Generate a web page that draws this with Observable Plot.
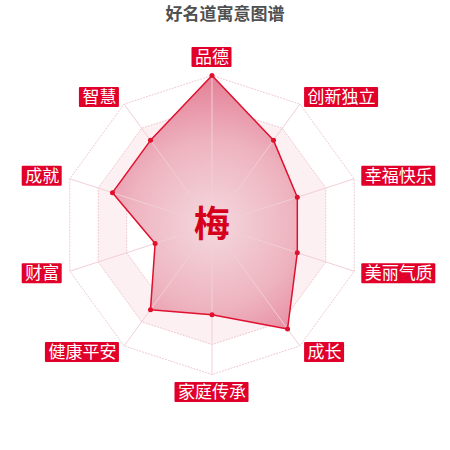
<!DOCTYPE html>
<html><head><meta charset="utf-8">
<script src="https://cdn.jsdelivr.net/npm/d3@7"></script>
<script src="https://cdn.jsdelivr.net/npm/@observablehq/plot@0.6"></script>
<style>
body{margin:0;background:#fff;width:450px;height:450px;overflow:hidden;font-family:"Noto Sans CJK SC",sans-serif}
#title{height:24px;line-height:24px;padding-top:1px;box-sizing:border-box;text-align:center;font-size:17px;font-weight:bold;color:#505050;}
#chart svg{display:block}
</style></head><body>
<div id="title">好名道寓意图谱</div>
<div id="chart"></div>
<script>
// ---- data ----
const centerName = "梅";
const dimensions = ["品德","创新独立","幸福快乐","美丽气质","成长","家庭传承","健康平安","财富","成就","智慧"];
const scores = [100,70,60,60,86,60,70,40,70,70];
const ringLevels = [20,40,60,80,100];
const maxScore = 100;

// ---- layout ----
const W = 450, H = 426;
const R = 149.5;              // px radius of maxScore
const cx = 211.5, cy = 200.5; // px center in svg
const k = R / maxScore;       // px per unit
const n = dimensions.length;
const ang = i => 2 * Math.PI * i / n;
const polar = (r, i) => ({x: r * Math.sin(ang(i)), y: r * Math.cos(ang(i))});

const pts = scores.map((s, i) => ({...polar(s, i), name: dimensions[i], s}));
const closed = [...pts, pts[0]];

const ringPolys = ringLevels.map(l => d3.range(n + 1).map(j => ({...polar(l, j % n), l})));
const spokes = dimensions.map((d, i) => ({x1: 0, y1: 0, x2: polar(maxScore, i).x, y2: polar(maxScore, i).y}));

const fs = 17, pad = 3, bh = 20, gap = 8;
const labels = dimensions.map((d, i) => {
  const a = polar(maxScore + gap / k, i);
  const w = d.length * fs + 2 * pad;
  const sx = Math.sin(ang(i)), cyv = Math.cos(ang(i));
  let x = a.x, y = a.y;
  if (Math.abs(sx) < 0.01) y += Math.sign(cyv) * (bh / 2) / k;
  else x += Math.sign(sx) * (w / 2) / k;
  return {name: d, x, y, x1: x - w / 2 / k, x2: x + w / 2 / k, y1: y - bh / 2 / k, y2: y + bh / 2 / k};
});

const splitFills = ["#ffffff", "#fcf0f3"];
const ringMarks = [];
[...ringLevels].reverse().forEach((l, idx) => {
  const poly = ringPolys[ringLevels.indexOf(l)];
  ringMarks.push(Plot.line(poly, {x: "x", y: "y", fill: splitFills[idx % 2], stroke: "#efc6cf", strokeWidth: 1, strokeDasharray: "1,2"}));
});

const chart = Plot.plot({
  width: W, height: H,
  margin: 0,
  x: {domain: [-cx / k, (W - cx) / k], range: [0, W], axis: null},
  y: {domain: [-(H - cy) / k, cy / k], range: [H, 0], axis: null},
  style: {fontFamily: '"Noto Sans CJK SC", sans-serif', background: "transparent"},
  marks: [
    ...ringMarks,
    Plot.line(closed, {x: "x", y: "y", fill: "url(#areaGrad)", stroke: "none"}),
    Plot.link(spokes, {x1: "x1", y1: "y1", x2: "x2", y2: "y2", stroke: "#f1cfd6", strokeWidth: 1}),
    Plot.line(closed, {x: "x", y: "y", stroke: "#e0102e", strokeWidth: 1.5}),
    Plot.dot(pts, {x: "x", y: "y", r: 2.5, fill: "#e0102e"}),
    Plot.text([centerName], {x: () => 0, y: () => 0, text: d => d, fontSize: 36, fontWeight: "bold", fill: "#d6001c", lineAnchor: "middle"}),
    Plot.rect(labels, {x1: "x1", x2: "x2", y1: "y1", y2: "y2", fill: "#e0002a", rx: 1}),
    Plot.text(labels, {x: "x", y: "y", text: "name", fill: "#fff", fontSize: fs, lineAnchor: "middle"})
  ]
});

const svg = d3.select(chart);
const defs = svg.insert("defs", ":first-child");
const g = defs.append("radialGradient").attr("id", "areaGrad")
  .attr("gradientUnits", "userSpaceOnUse").attr("cx", cx).attr("cy", cy).attr("r", R);
g.append("stop").attr("offset", "0").attr("stop-color", "#f4d8de");
g.append("stop").attr("offset", "0.55").attr("stop-color", "#eeb4c0");
g.append("stop").attr("offset", "1").attr("stop-color", "#e47f96");
document.getElementById("chart").appendChild(chart);
</script>
</body></html>
